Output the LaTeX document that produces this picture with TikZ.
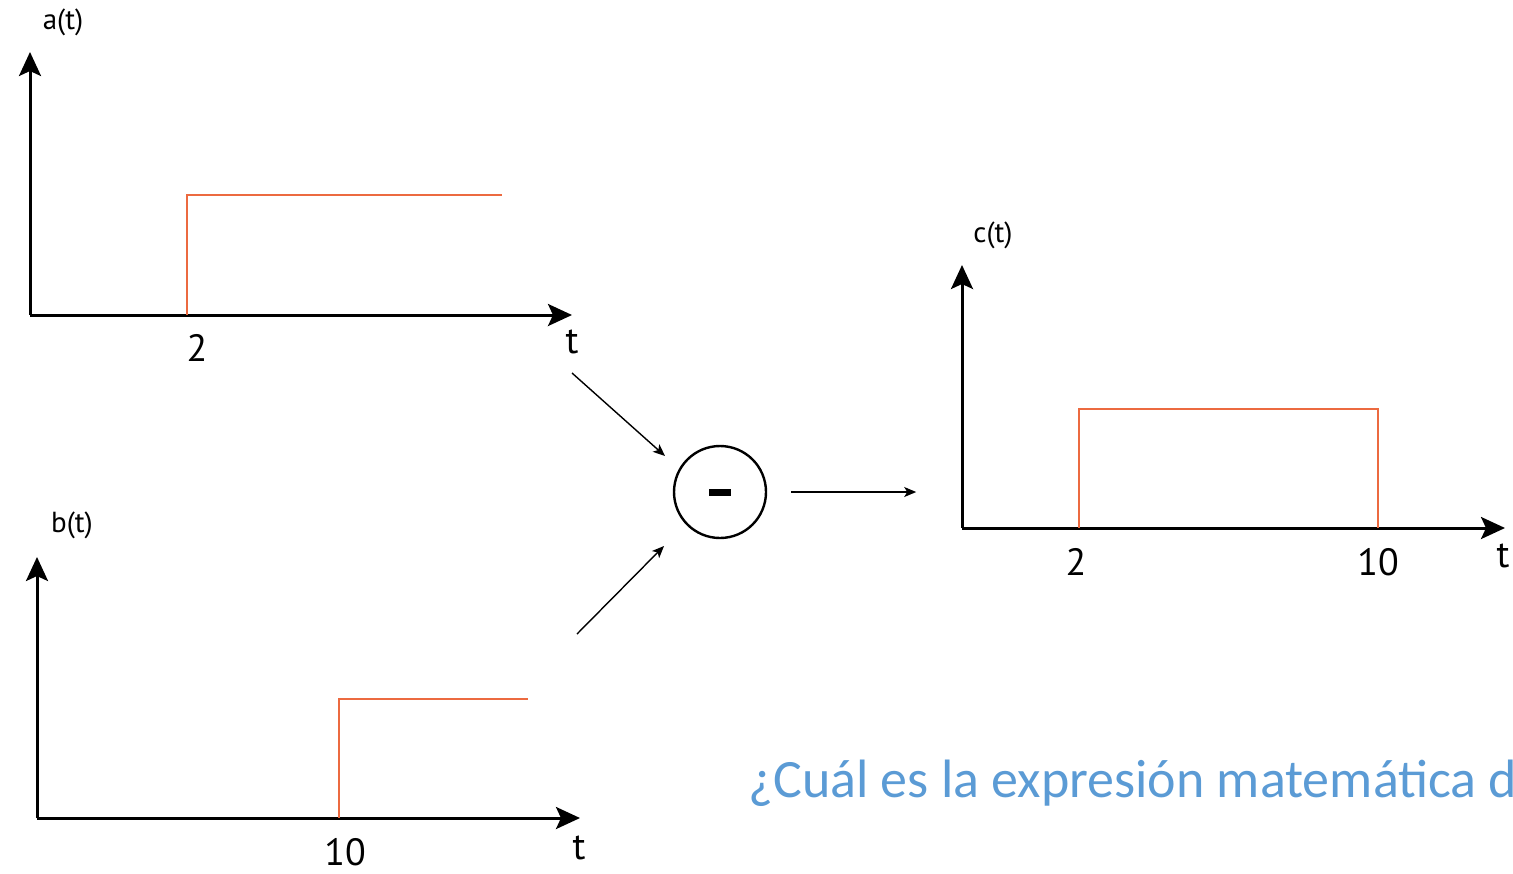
\documentclass[tikz,border=0pt]{standalone}
\usepackage{fontspec}
\setmainfont{PT Sans}
\newfontfamily\qfont{Carlito}
\usepackage{xcolor}
\usetikzlibrary{arrows.meta}
\definecolor{stepred}{RGB}{236,106,64}
\definecolor{qblue}{RGB}{91,155,213}

\begin{document}
\begin{tikzpicture}[x=0.5pt, y=-0.5pt,
    axis/.style={line width=1.5pt, -{Stealth[length=12pt, width=11pt, inset=2.5pt]}},
    sig/.style={stepred, line width=1.4pt},
    link/.style={line width=0.7pt, -{Stealth[length=6pt, width=5pt, inset=1.5pt]}},
    flab/.style={font=\fontsize{14.5}{16}\selectfont},
    num/.style={font=\fontsize{19}{21}\selectfont},
    op/.style={circle, draw, line width=1.2pt, minimum size=46pt, inner sep=0pt}]

    \useasboundingbox (0,0) rectangle (1513,873);
    \clip (0,0) rectangle (1513,873);

    % --- a(t) ---
    \coordinate (oa) at (30,315);
    \draw[axis] (oa) -- (30,52);
    \draw[axis] (oa) -- (572,315);
    \draw[sig] (187,315) |- (502,195);
    \node[flab] (alab) at (63,22) {a(t)};
    \node[num] (a2) at (197,348) {2};
    \node[num] (at) at (572,342) {t};

    % --- b(t) ---
    \coordinate (ob) at (37,818);
    \draw[axis] (ob) -- (37,557);
    \draw[axis] (ob) -- (580,818);
    \draw[sig] (339,818) |- (528,699);
    \node[flab] (blab) at (72,525) {b(t)};
    \node[num] (b10) at (345,852) {10};
    \node[num] (bt) at (579,848) {t};

    % --- Subtraction ---
    \node[op] (diff) at (720,492) {\rule{11pt}{3.5pt}};
    \coordinate (afrom) at (572,373);
    \coordinate (bfrom) at (577,634);
    \draw[link] (afrom) -- ([shift={(-55,-36)}]diff.center);
    \draw[link] (bfrom) -- ([shift={(-56,54)}]diff.center);
    \draw[link] ([shift={(24,0)}]diff.east) -- ++(125,0);

    % --- c(t) ---
    \coordinate (oc) at (962,528);
    \draw[axis] (oc) -- (962,265);
    \draw[axis] (oc) -- (1505,528);
    \draw[sig] (1079,528) |- (1378,409) -- (1378,528);
    \node[flab] (clab) at (993,235) {c(t)};
    \node[num] (c2) at (1076,562) {2};
    \node[num] (c10) at (1378,562) {10};
    \node[num] (ct) at (1503,556) {t};

    % --- Question ---
    \node[qblue, font=\qfont\fontsize{27}{30}\selectfont, anchor=base west,
          inner sep=0pt] (quest) at (748,797) {¿Cuál es la expresión matemática d};
\end{tikzpicture}
\end{document}
